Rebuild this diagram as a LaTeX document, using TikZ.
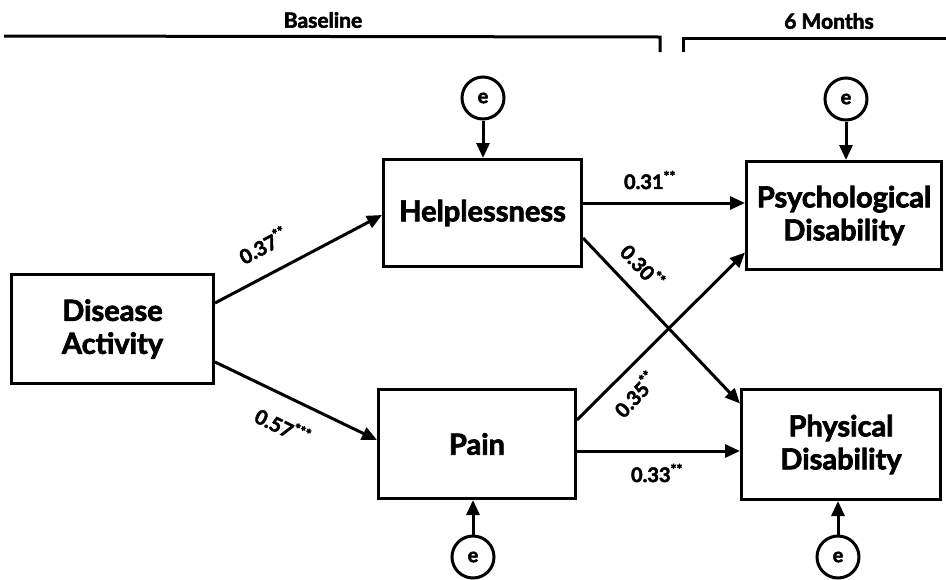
\documentclass[tikz,border=0pt]{standalone}
\usepackage{fontspec}
\setmainfont{Lato}[BoldFeatures={FakeBold=2.5}]
\usetikzlibrary{arrows.meta}
\begin{document}
\begin{tikzpicture}[x=1pt,y=-1pt,
  every node/.style={font=\bfseries},
  varbox/.style={draw, line width=3pt, align=center, inner sep=0pt,
    font=\fontsize{29}{33}\selectfont\bfseries},
  errnode/.style={draw, circle, line width=3pt, minimum size=42pt, inner sep=0pt,
    font=\fontsize{20}{20}\selectfont\bfseries},
  path/.style={line width=3pt, -{Triangle[length=15pt,width=13pt]}},
  coef/.style={font=\fontsize{20}{22}\selectfont\bfseries, inner sep=1pt},
  period/.style={line width=3pt},
  periodlabel/.style={font=\fontsize{21}{22}\selectfont\bfseries}
]
\useasboundingbox (0,0) rectangle (946,579);

% time periods
\node[periodlabel] (baselbl) at (323,20) {Baseline};
\node[periodlabel] (sixlbl) at (829,21) {6 Months};
\draw[period] (4,36) -- (660,37) -- (660,52);
\draw[period] (683,52) -- (683,38) -- (946,38);

% observed variables
\node[varbox, minimum width=202pt, minimum height=109pt] (dis) at (112.5,329) {Disease\\Activity};
\node[varbox, minimum width=198pt, minimum height=107pt] (help) at (482.5,213) {Helplessness};
\node[varbox, minimum width=197pt, minimum height=109pt] (pain) at (477,444) {Pain};
\node[varbox, minimum width=195pt, minimum height=108pt] (psy) at (844,215.5) {Psychological\\Disability};
\node[varbox, minimum width=199pt, minimum height=110pt] (phy) at (841,444.5) {Physical\\Disability};

% error terms
\node[errnode] (e1) at (483,98) {e};
\node[errnode] (e2) at (846,99) {e};
\node[errnode] (e3) at (473,557) {e};
\node[errnode] (e4) at (838,557) {e};

\draw[path] (e1) -- (e1 |- help.north);
\draw[path] (e2) -- (e2 |- psy.north);
\draw[path] (e3) -- (e3 |- pain.south);
\draw[path] (e4) -- (e4 |- phy.south);

% structural paths
\draw[path] ([yshift=26pt]dis.east) -- ([yshift=-2pt]help.west);
\draw[path] ([yshift=-33pt]dis.east) -- ([yshift=4pt]pain.west);
\coordinate (h1) at ([yshift=10pt]help.east);
\draw[path] (h1) -- (h1 -| psy.west);
\draw[path] ([yshift=-25pt]help.east) -- ([yshift=41pt]phy.west);
\draw[path] ([yshift=24pt]pain.east) -- ([yshift=-37pt]psy.west);
\coordinate (p1) at ([yshift=-7pt]pain.east);
\draw[path] (p1) -- (p1 -| phy.west);

% coefficients
\node[coef, rotate=28] (c1) at (263,245) {0.37\textsuperscript{**}};
\node[coef, rotate=-26] (c2) at (283,426) {0.57\textsuperscript{***}};
\node[coef] (c3) at (650,180) {0.31\textsuperscript{**}};
\node[coef, rotate=-47] (c4) at (643,266) {0.30\textsuperscript{**}};
\node[coef, rotate=47] (c5) at (635,394) {0.35\textsuperscript{**}};
\node[coef] (c6) at (657,473) {0.33\textsuperscript{**}};
\end{tikzpicture}
\end{document}
